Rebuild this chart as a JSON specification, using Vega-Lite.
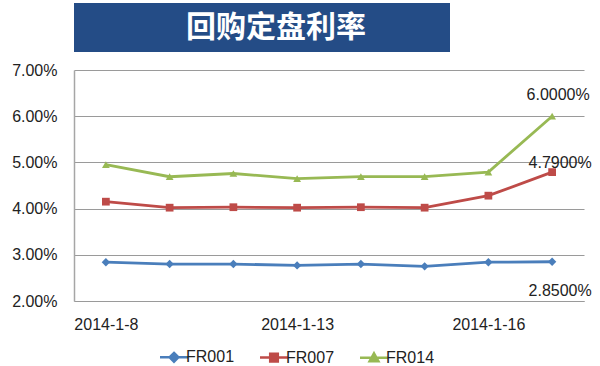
{
  "$schema": "https://vega.github.io/schema/vega-lite/v6.json",
  "padding": {"left": 11, "top": 3, "right": 0, "bottom": 0},
  "background": "white",
  "config": {"view": {"stroke": null}, "font": "Liberation Sans"},
  "spacing": 10,
  "vconcat": [
    {
      "width": 376,
      "height": 49,
      "data": {"values": [{"title": "回购定盘利率"}]},
      "layer": [
        {"mark": {"type": "rect", "color": "#244C86"}, "encoding": {}},
        {
          "mark": {"type": "text", "font": "Noto Sans CJK SC", "fontWeight": "bold", "fontSize": 30, "color": "white", "dx": 14, "baseline": "middle", "align": "center"},
          "encoding": {"text": {"field": "title"}}
        }
      ]
    },
    {
      "width": 510,
      "height": 231,
      "data": {"values": [
        {"date": "2014-1-8", "series": "FR001", "rate": 0.0284},
        {"date": "2014-1-9", "series": "FR001", "rate": 0.0280},
        {"date": "2014-1-10", "series": "FR001", "rate": 0.0280},
        {"date": "2014-1-13", "series": "FR001", "rate": 0.0277},
        {"date": "2014-1-14", "series": "FR001", "rate": 0.0280},
        {"date": "2014-1-15", "series": "FR001", "rate": 0.0275},
        {"date": "2014-1-16", "series": "FR001", "rate": 0.0284},
        {"date": "2014-1-17", "series": "FR001", "rate": 0.0285},
        {"date": "2014-1-8", "series": "FR007", "rate": 0.0415},
        {"date": "2014-1-9", "series": "FR007", "rate": 0.0402},
        {"date": "2014-1-10", "series": "FR007", "rate": 0.0403},
        {"date": "2014-1-13", "series": "FR007", "rate": 0.0402},
        {"date": "2014-1-14", "series": "FR007", "rate": 0.0403},
        {"date": "2014-1-15", "series": "FR007", "rate": 0.0402},
        {"date": "2014-1-16", "series": "FR007", "rate": 0.0428},
        {"date": "2014-1-17", "series": "FR007", "rate": 0.0479},
        {"date": "2014-1-8", "series": "FR014", "rate": 0.0495},
        {"date": "2014-1-9", "series": "FR014", "rate": 0.0469},
        {"date": "2014-1-10", "series": "FR014", "rate": 0.0476},
        {"date": "2014-1-13", "series": "FR014", "rate": 0.0465},
        {"date": "2014-1-14", "series": "FR014", "rate": 0.0469},
        {"date": "2014-1-15", "series": "FR014", "rate": 0.0469},
        {"date": "2014-1-16", "series": "FR014", "rate": 0.0479},
        {"date": "2014-1-17", "series": "FR014", "rate": 0.0600}
      ]},
      "encoding": {
        "x": {
          "field": "date", "type": "ordinal", "sort": null, "title": null,
          "scale": {"type": "point", "padding": 0.5},
          "axis": {"values": ["2014-1-8", "2014-1-13", "2014-1-16"], "labelAngle": 0, "ticks": false, "labelPadding": 15, "labelFontSize": 16, "labelColor": "#222", "labelFont": "Liberation Sans", "domain": true, "domainColor": "#9a9a9a", "domainWidth": 1.2, "grid": false}
        },
        "y": {
          "field": "rate", "type": "quantitative", "title": null,
          "scale": {"domain": [0.02, 0.07], "nice": false, "zero": false},
          "axis": {"values": [0.02, 0.03, 0.04, 0.05, 0.06, 0.07], "format": ".2%", "ticks": false, "labelPadding": 17, "labelFontSize": 16, "labelColor": "#222", "labelFont": "Liberation Sans", "domain": true, "domainColor": "#a6a6a6", "domainWidth": 1.5, "grid": true, "gridColor": "#9a9a9a", "gridWidth": 1.2}
        },
        "color": {
          "field": "series", "type": "nominal",
          "scale": {"domain": ["FR001", "FR007", "FR014"], "range": ["#4A7EBB", "#BE4B48", "#98B954"]},
          "legend": {
            "orient": "none", "legendX": 92, "legendY": 346, "direction": "horizontal", "title": null,
            "labelFontSize": 16, "labelFont": "Liberation Sans", "labelColor": "#222",
            "symbolSize": 64, "labelOffset": 4, "columnPadding": 20, "symbolStrokeWidth": 2.5,
            "encode": {"symbols": {"update": {
              "shape": {"signal": "datum.value == 'FR001' ? 'M-3.5,0H3.5M0,-1.1L1.1,0L0,1.1L-1.1,0Z' : datum.value == 'FR007' ? 'M-3.5,0H3.5M-0.95,-0.95H0.95V0.95H-0.95Z' : 'M-3.5,0H3.5M0,-1.1L1.1,0.85H-1.1Z'"},
              "fill": {"signal": "datum.value == 'FR001' ? '#4A7EBB' : datum.value == 'FR007' ? '#BE4B48' : '#98B954'"},
              "stroke": {"signal": "datum.value == 'FR001' ? '#4A7EBB' : datum.value == 'FR007' ? '#BE4B48' : '#98B954'"},
              "strokeWidth": {"value": 2.5},
              "opacity": {"value": 1}
            }}}
          }
        }
      },
      "layer": [
        {
          "mark": {"type": "line", "strokeWidth": 2.8}
        },
        {
          "transform": [{"filter": "datum.series == 'FR001'"}],
          "mark": {"type": "point", "filled": true, "opacity": 1, "size": 70, "shape": "diamond"}
        },
        {
          "transform": [{"filter": "datum.series == 'FR007'"}],
          "mark": {"type": "point", "filled": true, "opacity": 1, "size": 60, "shape": "square"}
        },
        {
          "transform": [{"filter": "datum.series == 'FR014'"}],
          "mark": {"type": "point", "filled": true, "opacity": 1, "size": 60, "shape": "triangle-up"}
        },
        {
          "transform": [{"filter": "datum.date == '2014-1-17' && datum.series == 'FR014'"}],
          "mark": {"type": "text", "fontSize": 16, "font": "Liberation Sans", "color": "#222", "dx": 6, "dy": -21},
          "encoding": {"text": {"field": "rate", "format": ".4%"}, "color": {"value": "#222"}}
        },
        {
          "transform": [{"filter": "datum.date == '2014-1-17' && datum.series == 'FR007'"}],
          "mark": {"type": "text", "fontSize": 16, "font": "Liberation Sans", "color": "#222", "dx": 8, "dy": -9},
          "encoding": {"text": {"field": "rate", "format": ".4%"}, "color": {"value": "#222"}}
        },
        {
          "transform": [{"filter": "datum.date == '2014-1-17' && datum.series == 'FR001'"}],
          "mark": {"type": "text", "fontSize": 16, "font": "Liberation Sans", "color": "#222", "dx": 8, "dy": 29},
          "encoding": {"text": {"field": "rate", "format": ".4%"}, "color": {"value": "#222"}}
        }
      ]
    }
  ]
}
